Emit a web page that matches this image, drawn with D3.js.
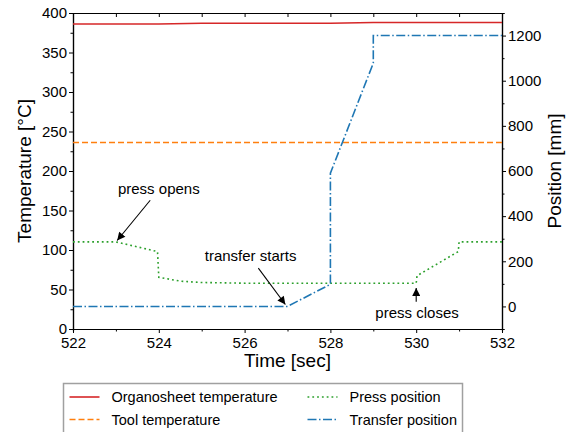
<!DOCTYPE html>
<html>
<head>
<meta charset="utf-8">
<script src="https://cdn.jsdelivr.net/npm/d3@7"></script>
<style>
  body { margin: 0; background: #fff; }
  svg { display: block; font-family: "Liberation Sans", Arial, sans-serif; }
  .axis text { font-size: 15px; fill: #000; }
  .axis path, .axis line { stroke: #000; }
</style>
</head>
<body>
<script>
// time [sec] / values
const organoTime = [522, 524, 525, 528, 529, 532];
const organoTemp = [386, 386, 387, 387, 388, 388];

const toolTime = [522, 532];
const toolTemp = [236, 236];

const pressTime = [522, 523, 523.97, 524, 524.5, 525, 526, 530, 530.02, 530.98, 531, 532];
const pressPos  = [286, 286, 243, 129, 112, 106, 103, 103, 136, 243, 286, 286];

const transferTime = [522, 527, 528, 528, 529, 529, 532];
const transferPos  = [0, 0, 98, 590, 1078, 1200, 1200];

const timeTicks = [522, 524, 526, 528, 530, 532];
const tempTicks = [0, 50, 100, 150, 200, 250, 300, 350, 400];
const posTicks = [0, 200, 400, 600, 800, 1000, 1200];

// annotations in (time, temperature) units
const notes = [
  {label: "press opens",     tx: 524.0,  ty: 171, from: [523.8, 163],   to: [523.03, 112]},
  {label: "transfer starts", tx: 526.14, ty: 86.5, from: [526.32, 77],  to: [526.95, 31]},
  {label: "press closes",    tx: 530.02, ty: 14,  from: [530.0, 34.5],  to: [530.0, 52]}
];

const legendItems = [
  {name: "Organosheet temperature", color: "#d62728", dash: null},
  {name: "Tool temperature", color: "#ff7f0e", dash: "6,3"},
  {name: "Press position", color: "#2ca02c", dash: "1.8,3"},
  {name: "Transfer position", color: "#1f77b4", dash: "9,2.5,1.5,2.5"}
];

var W = 571, H = 432;
var margin = {top: 13, right: 69, bottom: 103, left: 73};
var width = W - margin.left - margin.right,
    height = H - margin.top - margin.bottom;

var x = d3.scaleLinear().domain([522, 532]).range([0, width]);
var yT = d3.scaleLinear().domain([0, 400]).range([height, 0]);
var yP = d3.scaleLinear().domain([-100, 1300]).range([height, 0]);

var svg = d3.select("body").append("svg")
    .attr("width", W).attr("height", H);

var defs = svg.append("defs");
defs.append("marker")
    .attr("id", "head")
    .attr("viewBox", "0 0 10 10")
    .attr("refX", 10).attr("refY", 5)
    .attr("markerWidth", 9).attr("markerHeight", 8)
    .attr("markerUnits", "userSpaceOnUse")
    .attr("orient", "auto")
  .append("path")
    .attr("d", "M0,0 L10,5 L0,10 z")
    .attr("fill", "#000");

var g = svg.append("g")
    .attr("transform", "translate(" + margin.left + "," + margin.top + ")");

// minor ticks first
g.append("g").attr("class", "axis")
    .attr("transform", "translate(0," + height + ")")
    .call(d3.axisBottom(x).tickValues(d3.range(523, 532, 2)).tickSize(2.5).tickFormat(""));
g.append("g").attr("class", "axis")
    .call(d3.axisLeft(yT).tickValues(d3.range(25, 400, 50)).tickSize(2.5).tickFormat(""));
g.append("g").attr("class", "axis")
    .attr("transform", "translate(" + width + ",0)")
    .call(d3.axisRight(yP).tickValues(d3.range(-100, 1301, 200)).tickSize(2.5).tickFormat(""));
// top axis: inward ticks every second
g.append("g").attr("class", "axis")
    .call(d3.axisTop(x).tickValues(d3.range(522, 533, 1)).tickSize(-4).tickSizeOuter(0).tickFormat(""));

// major axes
g.append("g").attr("class", "axis")
    .attr("transform", "translate(0," + height + ")")
    .call(d3.axisBottom(x).tickValues(timeTicks).tickSize(4).tickSizeOuter(0).tickPadding(4).tickFormat(d3.format("d")));
g.append("g").attr("class", "axis")
    .call(d3.axisLeft(yT).tickValues(tempTicks).tickSize(4).tickSizeOuter(0).tickPadding(2).tickFormat(d3.format("d")));
g.append("g").attr("class", "axis")
    .attr("transform", "translate(" + width + ",0)")
    .call(d3.axisRight(yP).tickValues(posTicks).tickSize(4).tickSizeOuter(0).tickPadding(2).tickFormat(d3.format("d")));

g.selectAll(".axis .domain").attr("stroke-width", 1.2);

// series
function series(ts, vs, scale, color, dash) {
  var pts = ts.map(function(t, i) { return [t, vs[i]]; });
  var line = d3.line().x(function(d) { return x(d[0]); }).y(function(d) { return scale(d[1]); });
  g.append("path")
      .datum(pts)
      .attr("fill", "none")
      .attr("stroke", color)
      .attr("stroke-width", 1.6)
      .attr("stroke-dasharray", dash)
      .attr("d", line);
}
series(organoTime, organoTemp, yT, legendItems[0].color, legendItems[0].dash);
series(toolTime, toolTemp, yT, legendItems[1].color, legendItems[1].dash);
series(pressTime, pressPos, yP, legendItems[2].color, legendItems[2].dash);
series(transferTime, transferPos, yP, legendItems[3].color, legendItems[3].dash);

// annotations
notes.forEach(function(n) {
  g.append("text")
      .attr("x", x(n.tx)).attr("y", yT(n.ty))
      .attr("text-anchor", "middle")
      .attr("font-size", 15)
      .text(n.label);
  g.append("line")
      .attr("x1", x(n.from[0])).attr("y1", yT(n.from[1]))
      .attr("x2", x(n.to[0])).attr("y2", yT(n.to[1]))
      .attr("stroke", "#000").attr("stroke-width", 1.1)
      .attr("marker-end", "url(#head)");
});

// axis labels
svg.append("text")
    .attr("transform", "translate(31," + (margin.top + height / 2) + ") rotate(-90)")
    .attr("text-anchor", "middle")
    .attr("font-size", 19)
    .text("Temperature [°C]");
svg.append("text")
    .attr("transform", "translate(561," + (margin.top + height / 2) + ") rotate(-90)")
    .attr("text-anchor", "middle")
    .attr("font-size", 19)
    .text("Position [mm]");
svg.append("text")
    .attr("x", margin.left + width / 2).attr("y", 367)
    .attr("text-anchor", "middle")
    .attr("font-size", 19)
    .text("Time [sec]");

// legend
var lg = svg.append("g").attr("transform", "translate(63.5,383.5)");
lg.append("rect")
    .attr("width", 399).attr("height", 60)
    .attr("fill", "#fff").attr("stroke", "#a0a0a0").attr("stroke-width", 1.5);
legendItems.forEach(function(d, i) {
  var col = i < 2 ? 0 : 1, row = i % 2;
  var lx = col === 0 ? 6 : 244, ly = 13.5 + row * 22.5;
  lg.append("line")
      .attr("x1", lx).attr("x2", lx + 30)
      .attr("y1", ly).attr("y2", ly)
      .attr("stroke", d.color).attr("stroke-width", 1.6)
      .attr("stroke-dasharray", d.dash);
  lg.append("text")
      .attr("x", lx + 42).attr("y", ly + 5)
      .attr("font-size", 14.5)
      .text(d.name);
});
</script>
</body>
</html>
